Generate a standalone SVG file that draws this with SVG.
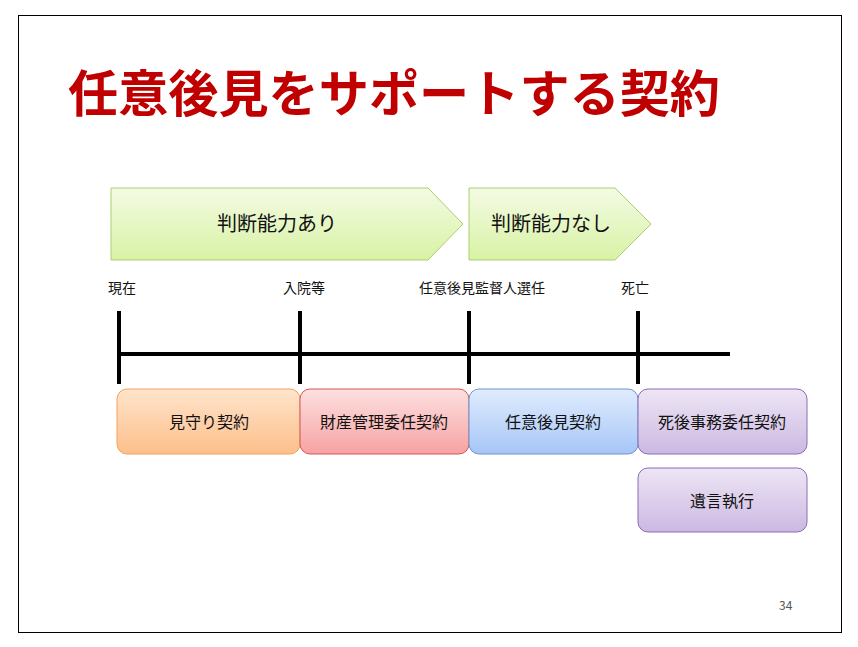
<svg xmlns="http://www.w3.org/2000/svg" width="858" height="647" viewBox="0 0 858 647">
<defs>
<linearGradient id="gG" x1="0" y1="0" x2="0" y2="1"><stop offset="0" stop-color="#f4fbe4"/><stop offset="1" stop-color="#d8f2a4"/></linearGradient>
<linearGradient id="gO" x1="0" y1="0" x2="0" y2="1"><stop offset="0" stop-color="#ffe4cc"/><stop offset="1" stop-color="#fdbf8a"/></linearGradient>
<linearGradient id="gR" x1="0" y1="0" x2="0" y2="1"><stop offset="0" stop-color="#fde0e0"/><stop offset="1" stop-color="#f7a2a2"/></linearGradient>
<linearGradient id="gB" x1="0" y1="0" x2="0" y2="1"><stop offset="0" stop-color="#e0ecfd"/><stop offset="1" stop-color="#a6c6f8"/></linearGradient>
<linearGradient id="gP" x1="0" y1="0" x2="0" y2="1"><stop offset="0" stop-color="#ede6f5"/><stop offset="1" stop-color="#ccb8e2"/></linearGradient>
</defs>
<style>
text{font-family:"Noto Sans CJK JP",sans-serif;fill:#111}
.l{font-size:14px}
.b{font-size:16px;text-anchor:middle}
.tk{stroke:#000;stroke-width:4}
</style>
<rect x="0" y="0" width="858" height="647" fill="#fff"/>
<rect x="18.5" y="15.5" width="823" height="617" fill="#fff" stroke="#000"/>
<text x="68" y="112" textLength="652" lengthAdjust="spacingAndGlyphs" style="font-size:50px;font-weight:bold;fill:#c00000">任意後見をサポートする契約</text>
<g id="phase1"><path d="M111 188H428L463 224L428 260H111Z" fill="url(#gG)" stroke="#a8d070"/><text x="277" y="231" class="b" style="font-size:20px">判断能力あり</text></g>
<g id="phase2"><path d="M469 188H615L651 224L615 260H469Z" fill="url(#gG)" stroke="#a8d070"/><text x="551" y="231" class="b" style="font-size:20px">判断能力なし</text></g>
<g id="timeline">
<text x="108" y="293" class="l">現在</text><text x="283" y="293" class="l">入院等</text><text x="419" y="293" class="l">任意後見監督人選任</text><text x="621" y="293" class="l">死亡</text>
<line x1="117" y1="354" x2="730" y2="354" class="tk"/>
<line x1="119" y1="311" x2="119" y2="384" class="tk"/><line x1="300" y1="311" x2="300" y2="384" class="tk"/><line x1="469" y1="311" x2="469" y2="384" class="tk"/><line x1="638" y1="311" x2="638" y2="384" class="tk"/>
</g>
<g id="n1"><rect x="117" y="389" width="183" height="65" rx="10" fill="url(#gO)" stroke="#f4a15a"/><text x="209" y="428" class="b">見守り契約</text></g>
<g id="n2"><rect x="300" y="389" width="169" height="65" rx="10" fill="url(#gR)" stroke="#d05858"/><text x="384" y="428" class="b">財産管理委任契約</text></g>
<g id="n3"><rect x="469" y="389" width="169" height="65" rx="10" fill="url(#gB)" stroke="#6d96d0"/><text x="553" y="428" class="b">任意後見契約</text></g>
<g id="n4"><rect x="638" y="389" width="169" height="65" rx="10" fill="url(#gP)" stroke="#8c6cb4"/><text x="722" y="428" class="b">死後事務委任契約</text></g>
<g id="n5"><rect x="638" y="468" width="169" height="64" rx="10" fill="url(#gP)" stroke="#8c6cb4"/><text x="722" y="507" class="b">遺言執行</text></g>
<text x="779" y="610" style="font-size:12px;fill:#555">34</text>
</svg>
